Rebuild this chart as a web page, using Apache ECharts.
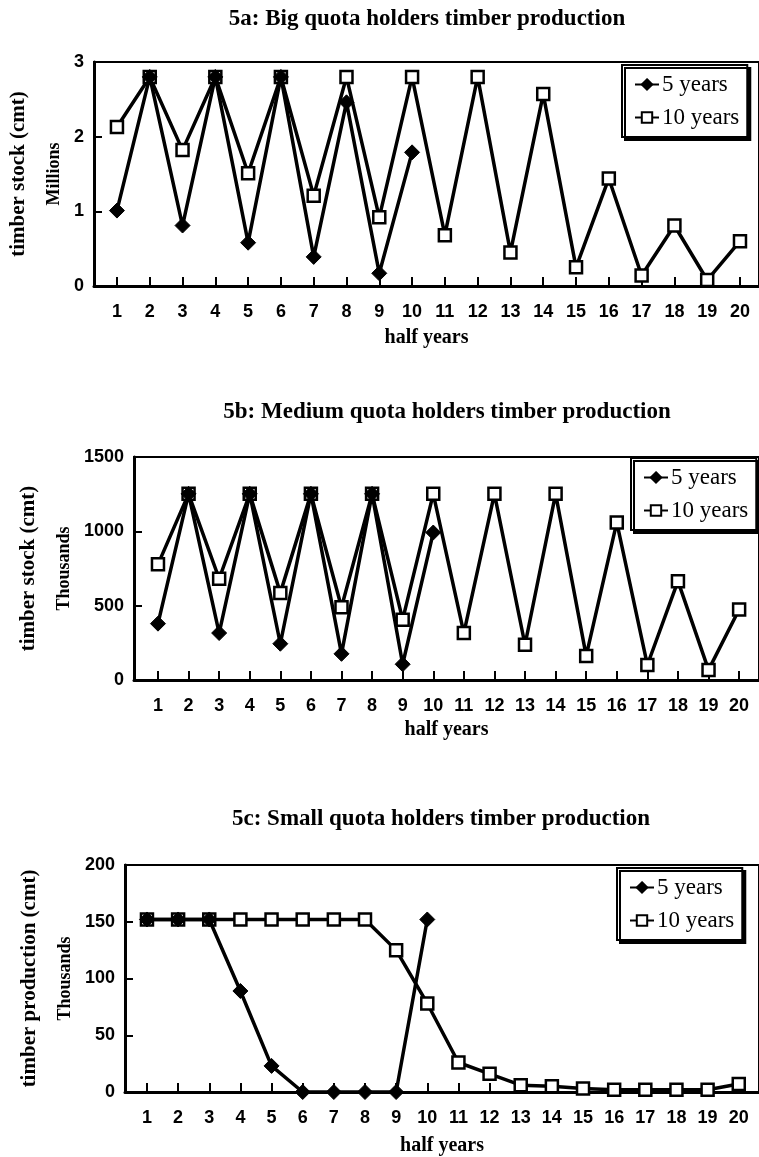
<!DOCTYPE html>
<html lang="en">
<head>
<meta charset="UTF-8">
<title>Quota holders timber production</title>
<script src="https://cdn.jsdelivr.net/npm/echarts@6/dist/echarts.min.js"></script>
<style>
    html, body { margin: 0; padding: 0; background: #fff; }
    #main { width: 759px; height: 1157px; }
</style>
</head>
<body>
<div id="main"></div>
<script type="text/javascript">
    var halfYears = [1, 2, 3, 4, 5, 6, 7, 8, 9, 10, 11, 12, 13, 14, 15, 16, 17, 18, 19, 20];

    // 5a: big quota holders, millions
    var bigFive = [1.01, 2.8, 0.81, 2.8, 0.58, 2.8, 0.39, 2.46, 0.17, 1.79];
    var bigTen = [2.13, 2.8, 1.82, 2.8, 1.51, 2.8, 1.21, 2.8, 0.92, 2.8,
        0.68, 2.8, 0.45, 2.57, 0.25, 1.44, 0.14, 0.81, 0.08, 0.6];
    var bigTicks = [0, 1, 2, 3];

    // 5b: medium quota holders, thousands
    var medFive = [379, 1252, 316, 1252, 244, 1252, 176, 1252, 106, 992];
    var medTen = [778, 1252, 681, 1252, 586, 1252, 489, 1252, 406, 1252,
        316, 1252, 237, 1252, 162, 1060, 101, 665, 68, 474];
    var medTicks = [0, 500, 1000, 1500];

    // 5c: small quota holders, thousands
    var smallFive = [152, 152, 152, 89, 23, 0, 0, 0, 0, 152];
    var smallTen = [152, 152, 152, 152, 152, 152, 152, 152, 125, 78,
        26, 16, 6, 5, 3, 2, 2, 2, 2, 7];
    var smallTicks = [0, 50, 100, 150, 200];

    var titles = ['5a: Big quota holders timber production',
        '5b: Medium quota holders timber production',
        '5c: Small quota holders timber production'];
    var yNames = ['timber stock (cmt)', 'timber stock (cmt)', 'timber production (cmt)'];
    var yUnits = ['Millions', 'Thousands', 'Thousands'];
    var seriesNames = ['5 years', '10 years'];

    var SERIF = 'Liberation Serif';
    var SANS = 'Liberation Sans';

    var panels = [
        {five: bigFive, ten: bigTen, ticks: bigTicks,
            grid: {left: 94, top: 62, width: 666, height: 224}, xMin: 0.30, xMax: 20.58,
            titleX: 427, titleY: 8, legend: {left: 622, top: 65}, nameGap: 23, xNameGap: 42},
        {five: medFive, ten: medTen, ticks: medTicks,
            grid: {left: 134, top: 457, width: 626, height: 223}, xMin: 0.216, xMax: 20.65,
            titleX: 447, titleY: 401, legend: {left: 631, top: 458}, nameGap: 52, xNameGap: 40},
        {five: smallFive, ten: smallTen, ticks: smallTicks,
            grid: {left: 125, top: 865, width: 635, height: 228}, xMin: 0.295, xMax: 20.65,
            titleX: 441, titleY: 808, legend: {left: 617, top: 868}, nameGap: 43, xNameGap: 44}
    ];

    function pairs(vals) {
        return vals.map(function (v, i) { return [halfYears[i], v]; });
    }

    var option = {
        animation: false,
        backgroundColor: '#fff',
        title: [], grid: [], xAxis: [], yAxis: [], legend: [], series: []
    };

    panels.forEach(function (p, i) {
        var t = p.ticks;
        option.title.push({
            text: titles[i], left: p.titleX, top: p.titleY, textAlign: 'center', padding: 0,
            textStyle: {fontFamily: SERIF, fontWeight: 'bold', fontSize: 23, color: '#000'}
        });
        option.grid.push({
            left: p.grid.left, top: p.grid.top, width: p.grid.width, height: p.grid.height,
            show: true, borderColor: '#000', borderWidth: 2
        });
        option.xAxis.push({
            gridIndex: i, type: 'value', min: p.xMin, max: p.xMax,
            name: 'half years', nameLocation: 'middle', nameGap: p.xNameGap,
            nameTextStyle: {fontFamily: SERIF, fontWeight: 'bold', fontSize: 20, color: '#000'},
            axisLine: {onZero: false, lineStyle: {color: '#000', width: 3}},
            axisTick: {inside: true, length: 9, customValues: halfYears, lineStyle: {color: '#000', width: 2}},
            axisLabel: {customValues: halfYears, margin: 17, fontFamily: SANS, fontWeight: 'bold', fontSize: 18, color: '#000'},
            splitLine: {show: false}
        });
        option.yAxis.push({
            gridIndex: i, type: 'value', min: t[0], max: t[t.length - 1], interval: t[1] - t[0],
            name: '{a|' + yNames[i] + '}\n{b|' + yUnits[i] + '}',
            nameLocation: 'middle', nameRotate: 90, nameGap: p.nameGap,
            nameTextStyle: {
                rich: {
                    a: {fontFamily: SERIF, fontWeight: 'bold', fontSize: 21, color: '#000', lineHeight: 36},
                    b: {fontFamily: SERIF, fontWeight: 'bold', fontSize: 18, color: '#000', lineHeight: 34}
                }
            },
            axisLine: {lineStyle: {color: '#000', width: 3}},
            axisTick: {inside: true, length: 8, lineStyle: {color: '#000', width: 2}},
            axisLabel: {
                margin: 10, fontFamily: SANS, fontWeight: 'bold', fontSize: 18, color: '#000',
                formatter: function (v) { return String(v); }
            },
            splitLine: {show: false}
        });
        option.legend.push({
            data: seriesNames, orient: 'vertical', left: p.legend.left, top: p.legend.top,
            itemWidth: 24, itemHeight: 13, itemGap: 10, padding: [8, 8, 8, 12],
            backgroundColor: '#fff', borderColor: '#000', borderWidth: 2,
            shadowColor: '#000', shadowBlur: 0, shadowOffsetX: 3, shadowOffsetY: 3,
            textStyle: {fontFamily: SERIF, fontSize: 23, color: '#000', padding: [0, 0, 0, -2]},
            selectedMode: false
        });
        option.series.push({
            name: '10 years', type: 'line', xAxisIndex: i, yAxisIndex: i,
            data: pairs(p.ten), symbol: 'rect', symbolSize: 12,
            lineStyle: {color: '#000', width: 3.5},
            itemStyle: {color: '#fff', borderColor: '#000', borderWidth: 2.5},
            emphasis: {disabled: true}, z: 2
        });
        option.series.push({
            name: '5 years', type: 'line', xAxisIndex: i, yAxisIndex: i,
            data: pairs(p.five), symbol: 'diamond', symbolSize: 15,
            lineStyle: {color: '#000', width: 3.5},
            itemStyle: {color: '#000', borderColor: '#000', borderWidth: 1},
            emphasis: {disabled: true}, z: 3
        });
    });

    var chart = echarts.init(document.getElementById('main'));
    chart.setOption(option);
</script>
</body>
</html>
